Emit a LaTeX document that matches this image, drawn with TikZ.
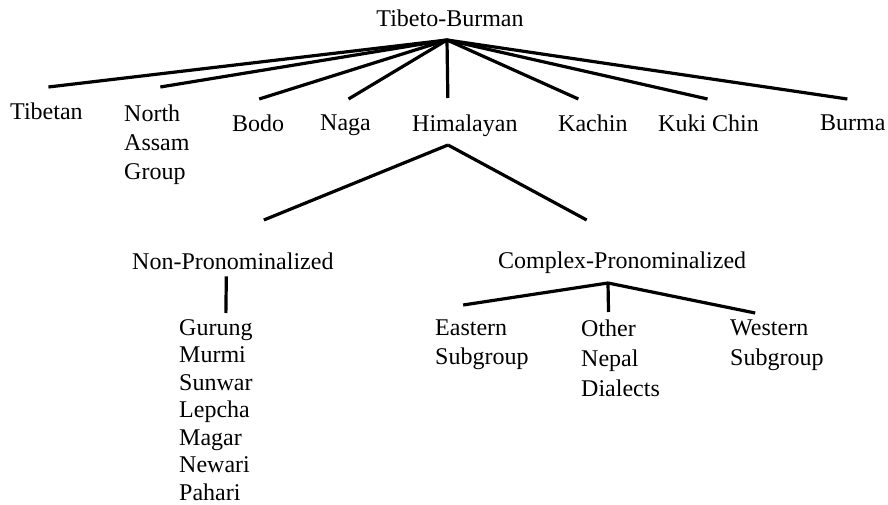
\documentclass[tikz,border=0pt]{standalone}
\usepackage{fontspec}
\setmainfont{Liberation Serif}

\tikzset{
  lang/.style={font=\fontsize{24}{29}\selectfont, align=left, inner sep=0pt, anchor=north west},
  branch/.style={line width=3.2pt},
}

\begin{document}
\begin{tikzpicture}[x=1pt,y=-1pt]
\useasboundingbox (0,0) rectangle (888,505);

% The root and its eight branches
\node[lang, anchor=north] (tibeto) at (450,10) {Tibeto-Burman};
\coordinate (tbhub) at (447,40);

\node[lang] (tibetan) at (10,103) {Tibetan};
\node[lang] (nassam) at (124,105) {North\\Assam\\Group};
\node[lang] (bodo) at (232,115) {Bodo};
\node[lang] (naga) at (320,115) {Naga};
\node[lang] (himal) at (412,115) {Himalayan};
\node[lang] (kachin) at (558,115) {Kachin};
\node[lang] (kuki) at (658,115) {Kuki Chin};
\node[lang] (burma) at (820,115) {Burma};

\foreach \n/\dx/\dy in {tibetan/2/16, nassam/3.5/18, bodo/1/16, naga/3/16,
    himal/-17/17, kachin/-14.5/16, kuki/-1/16, burma/-5.5/16}{
  \draw[branch] (tbhub) -- ([xshift=\dx pt, yshift=\dy pt]\n.north);
}

% The Himalayan split
\coordinate (himhub) at (448,145);
\node[lang] (nonpro) at (132,253) {Non-Pronominalized};
\node[lang] (compro) at (498,252) {Complex-Pronominalized};

\draw[branch] (himhub) -- ([xshift=31pt, yshift=33pt]nonpro.north);
\draw[branch] (himhub) -- ([xshift=-35.5pt, yshift=32pt]compro.north);

% Non-Pronominalized list
\node[lang, font=\fontsize{24}{27.5}\selectfont] (nplist) at (179,319)
  {Gurung\\Murmi\\Sunwar\\Lepcha\\Magar\\Newari\\Pahari};
\draw[branch] ([xshift=-6.5pt, yshift=-6pt]nonpro.south)
  -- ([xshift=10pt, yshift=6pt]nplist.north);

% Complex-Pronominalized subgroups
\coordinate (cphub) at (608,283);
\node[lang, font=\fontsize{24}{29}\selectfont] (eastern) at (435,320) {Eastern\\Subgroup};
\node[lang, font=\fontsize{24}{30}\selectfont] (other) at (581,320) {Other\\Nepal\\Dialects};
\node[lang, font=\fontsize{24}{30}\selectfont] (western) at (730,320) {Western\\Subgroup};

\foreach \n/\dx/\dy in {eastern/-18.7/15, other/-12/8, western/-21.7/7}{
  \draw[branch] (cphub) -- ([xshift=\dx pt, yshift=\dy pt]\n.north);
}

\end{tikzpicture}
\end{document}
